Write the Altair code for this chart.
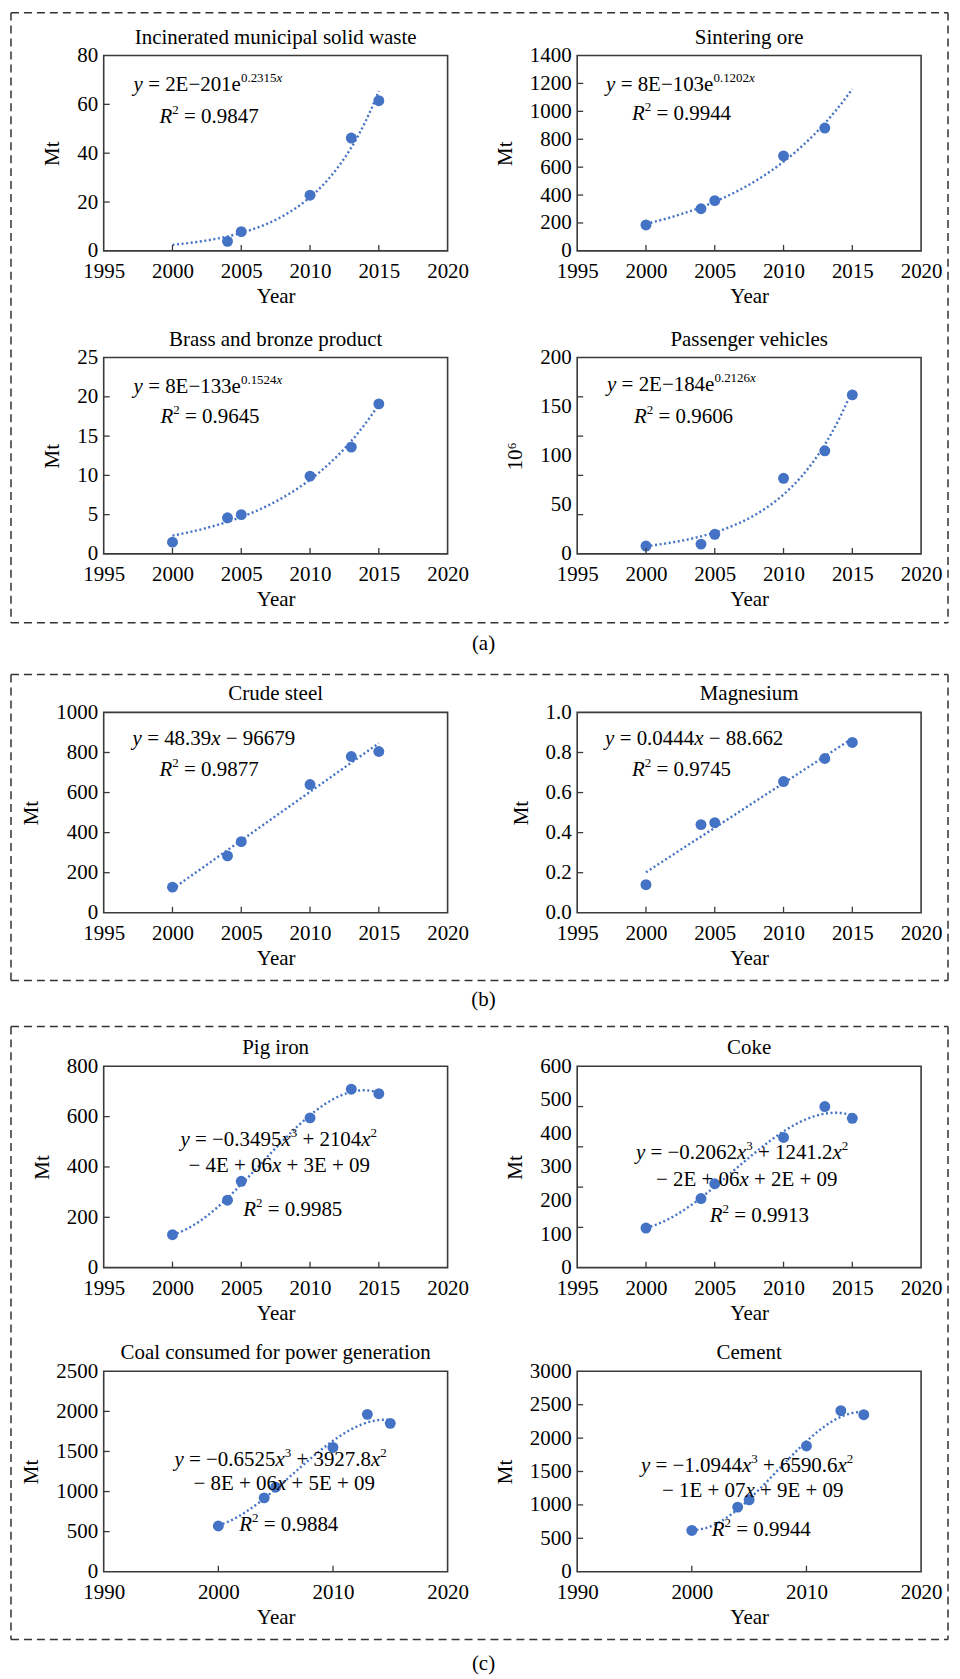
import altair as alt
import pandas as pd

FONT = "Liberation Serif"
BLUE = "#4472C4"
FRAME = "#3a3a3a"
W = 345

# ---------------- data ----------------
years_msw = [2004, 2005, 2010, 2013, 2015]
msw = [3.9, 7.9, 22.8, 46.2, 61.5]
years_sinter = [2000, 2004, 2005, 2010, 2013]
sinter = [186, 302, 360, 681, 880]
years = [2000, 2004, 2005, 2010, 2013, 2015]
brass = [1.5, 4.6, 5.0, 9.9, 13.6, 19.1]
vehicles = [8, 10, 20, 77, 105, 162]
steel = [128, 284, 355, 640, 780, 805]
magnesium = [0.14, 0.44, 0.45, 0.655, 0.77, 0.85]
pig_iron = [131, 268, 343, 595, 709, 691]
coke = [118, 206, 250, 388, 480, 445]
coal = [570, 921, 1054, 1550, 1963, 1851]
cement = [617, 967, 1076, 1882, 2410, 2350]

xlabels_5 = [1995, 2000, 2005, 2010, 2015, 2020]
xlabels_10 = [1990, 2000, 2010, 2020]
yl_msw = [0, 20, 40, 60, 80]
yl_sinter = [0, 200, 400, 600, 800, 1000, 1200, 1400]
yl_brass = [0, 5, 10, 15, 20, 25]
yl_veh = [0, 50, 100, 150, 200]
yt_veh = [40, 80, 120, 160]
yl_steel = [0, 200, 400, 600, 800, 1000]
yl_mg = [0, 0.2, 0.4, 0.6, 0.8, 1.0]
yl_pig = [0, 200, 400, 600, 800]
yl_coke = [0, 100, 200, 300, 400, 500, 600]
yt_coke = [120, 240, 360, 480]
yl_coal = [0, 500, 1000, 1500, 2000, 2500]
yl_cement = [0, 500, 1000, 1500, 2000, 2500, 3000]

DUMMY = pd.DataFrame({"d": [0]})

# Times-compatible advance widths (per 1000 em)
WN = {" ": 250, ".": 250, "=": 564, "+": 564, "\u2212": 564, "E": 611, "e": 444,
      "R": 667, "x": 500, "y": 500}
WI = {"x": 444, "y": 444, "R": 611}


def text_width(s, italic, size):
    tot = 0
    for ch in s:
        if ch.isdigit():
            tot += 500
        elif italic and ch in WI:
            tot += WI[ch]
        else:
            tot += WN.get(ch, 500)
    return tot * size / 1000.0


def eq_layers(lines):
    out = []
    for x0, base, segs in lines:
        cur = x0
        for txt, style in segs:
            sup = style.startswith("s")
            ital = style.endswith("i")
            size = 13 if sup else 21
            yb = base - 9 if sup else base
            core = txt.strip(" ")
            lead = len(txt) - len(txt.lstrip(" "))
            trail = len(txt) - len(txt.rstrip(" "))
            cur += lead * 250 * size / 1000.0
            out.append(
                alt.Chart(DUMMY)
                .mark_text(align="left", baseline="alphabetic", font=FONT, fontSize=size,
                           fontStyle="italic" if ital else "normal", color="black")
                .encode(x=alt.value(cur), y=alt.value(yb), text=alt.value(core))
            )
            cur += text_width(core, ital, size) + trail * 250 * size / 1000.0
    return out


def r2(x0, base, val):
    return (x0, base, [("R", "i"), ("2", "s"), (" = " + val, "n")])


def exp_eq(a, b, c, r, p):
    return [(a[0], a[1], [("y", "i"), (" = " + b + "e", "n"), (c, "s"), ("x", "si")]),
            r2(r[0], r[1], p)]


def lin_eq(a, slope, icpt, r, p):
    return [(a[0], a[1], [("y", "i"), (" = " + slope, "n"), ("x", "i"), (" \u2212 " + icpt, "n")]),
            r2(r[0], r[1], p)]


def poly_eq(a, c3, c2, l2, c1, c0, r, p):
    return [(a[0], a[1], [("y", "i"), (" = \u2212" + c3, "n"), ("x", "i"), ("3", "s"),
                          (" + " + c2, "n"), ("x", "i"), ("2", "s")]),
            (l2[0], l2[1], [("\u2212 " + c1, "n"), ("x", "i"), (" + " + c0, "n")]),
            r2(r[0], r[1], p)]


def box_layers(l, t, r, b, label, lx, ly):
    st = dict(color="#333333", strokeWidth=1.5, strokeDash=[8, 5])
    out = [
        alt.Chart(DUMMY).mark_rule(**st).encode(x=alt.value(l), x2=alt.value(r), y=alt.value(t)),
        alt.Chart(DUMMY).mark_rule(**st).encode(x=alt.value(l), x2=alt.value(r), y=alt.value(b)),
        alt.Chart(DUMMY).mark_rule(**st).encode(x=alt.value(l), y=alt.value(t), y2=alt.value(b)),
        alt.Chart(DUMMY).mark_rule(**st).encode(x=alt.value(r), y=alt.value(t), y2=alt.value(b)),
        alt.Chart(DUMMY).mark_text(font=FONT, fontSize=21, color="black", align="center",
                                   baseline="middle")
        .encode(x=alt.value(lx), y=alt.value(ly), text=alt.value(label)),
    ]
    return out


def panel(title, yrs, vals, method, xlabels, ylabels, ytitle, eq, H,
          yticks=None, yfmt="d", deco=None):
    df = pd.DataFrame({"year": yrs, "value": vals})
    xdom = [xlabels[0], xlabels[-1]]
    ydom = [ylabels[0], ylabels[-1]]
    xs = alt.Scale(domain=xdom, nice=False, zero=False)
    ys = alt.Scale(domain=ydom, nice=False, zero=False)
    xax = alt.Axis(values=xlabels, format="d", title="Year")
    yax = alt.Axis(values=ylabels, format=yfmt, title=ytitle)
    x = alt.X("year:Q", scale=xs, axis=xax)
    y = alt.Y("value:Q", scale=ys, axis=yax)

    base = alt.Chart(df)
    if method == "poly":
        reg = base.transform_regression("year", "value", method="poly", order=3, extent=[2000, 2015])
    else:
        reg = base.transform_regression("year", "value", method=method, extent=[2000, 2015])
    trend = reg.mark_line(color=BLUE, strokeWidth=2.4, strokeDash=[2, 2.6]).encode(x=x, y=y)
    pts = base.mark_circle(size=120, opacity=1, color=BLUE).encode(x=x, y=y)

    xt = pd.DataFrame({"year": xlabels[1:-1]})
    yt = pd.DataFrame({"value": (yticks if yticks is not None else ylabels[1:-1])})
    xtick = alt.Chart(xt).mark_rule(color=FRAME, strokeWidth=1.3).encode(
        x=x, y=alt.value(H), y2=alt.value(H - 6))
    ytick = alt.Chart(yt).mark_rule(color=FRAME, strokeWidth=1.3).encode(
        y=y, x=alt.value(0), x2=alt.value(6))
    ttl = alt.Chart(DUMMY).mark_text(font=FONT, fontSize=21, color="black", align="center",
                                     baseline="alphabetic").encode(
        x=alt.value(W / 2), y=alt.value(-12), text=alt.value(title))

    layers = [trend, pts, xtick, ytick, ttl] + eq_layers(eq)
    if deco is not None:
        layers += deco
    return alt.layer(*layers).properties(
        width=W, height=H,
        view=alt.ViewBackground(stroke=FRAME, strokeWidth=1.6),
    )


def spacer(h):
    return alt.Chart(DUMMY).mark_point(opacity=0).encode(
        x=alt.value(0), y=alt.value(0)).properties(width=W, height=h)


p1 = panel("Incinerated municipal solid waste", years_msw, msw, "exp", xlabels_5, yl_msw, "Mt",
           exp_eq((30, 36), "2E\u2212201", "0.2315", (56, 68), "0.9847"), 196,
           deco=box_layers(-93, -43, 847, 569, "(a)", 381, 590))
p2 = panel("Sintering ore", years_sinter, sinter, "exp", xlabels_5, yl_sinter, "Mt",
           exp_eq((29, 36), "8E\u2212103", "0.1202", (55, 65), "0.9944"), 196)
p3 = panel("Brass and bronze product", years, brass, "exp", xlabels_5, yl_brass, "Mt",
           exp_eq((30, 36), "8E\u2212133", "0.1524", (57, 66), "0.9645"), 197)
p4 = panel("Passenger vehicles", years, vehicles, "exp", xlabels_5, yl_veh, "10\u2076",
           exp_eq((30, 34), "2E\u2212184", "0.2126", (57, 66), "0.9606"), 197, yticks=yt_veh)
p5 = panel("Crude steel", years, steel, "linear", xlabels_5, yl_steel, "Mt",
           lin_eq((29, 33), "48.39", "96679", (56, 64), "0.9877"), 201,
           deco=box_layers(-93, -38, 847, 269, "(b)", 381, 289))
p6 = panel("Magnesium", years, magnesium, "linear", xlabels_5, yl_mg, "Mt",
           lin_eq((28, 33), "0.0444", "88.662", (55, 64), "0.9745"), 201, yfmt=".1f")
p7 = panel("Pig iron", years, pig_iron, "poly", xlabels_5, yl_pig, "Mt",
           poly_eq((77, 80), "0.3495", "2104", (85, 106), "4E + 06", "3E + 09", (140, 150), "0.9985"),
           202, deco=box_layers(-93, -40, 847, 575, "(c)", 381, 600))
p8 = panel("Coke", years, coke, "poly", xlabels_5, yl_coke, "Mt",
           poly_eq((59, 93), "0.2062", "1241.2", (79, 120), "2E + 06", "2E + 09", (133, 156), "0.9913"),
           202, yticks=yt_coke)
p9 = panel("Coal consumed for power generation", years, coal, "poly", xlabels_10, yl_coal, "Mt",
           poly_eq((71, 95), "0.6525", "3927.8", (90, 119), "8E + 06", "5E + 09", (136, 160), "0.9884"),
           201)
p10 = panel("Cement", years, cement, "poly", xlabels_10, yl_cement, "Mt",
            poly_eq((64, 101), "1.0944", "6590.6", (85, 126), "1E + 07", "9E + 09", (135, 165), "0.9944"),
            201)

cells = [p1, p2, spacer(107), spacer(107), p3, p4, spacer(159), spacer(159),
         p5, p6, spacer(154), spacer(154), p7, p8, spacer(104), spacer(104), p9, p10]

chart = alt.concat(
    *cells, columns=2, spacing=alt.RowColnumber(row=0, column=130),
    bounds="flush", align="each",
).properties(
    padding={"left": 1, "top": 0, "right": 2, "bottom": 0},
).configure_view(
    stroke=None
).configure_axis(
    labelFont=FONT, labelFontSize=21, labelColor="black", titleFont=FONT, titleFontSize=21,
    titleFontWeight="normal", titleColor="black", domain=False, ticks=False, grid=False,
    labelFlush=False,
).configure_axisX(
    labelPadding=10, titlePadding=4,
).configure_axisY(
    labelPadding=6, titlePadding=14,
)

chart.save("out.html", embed_options={"renderer": "svg", "actions": False})
